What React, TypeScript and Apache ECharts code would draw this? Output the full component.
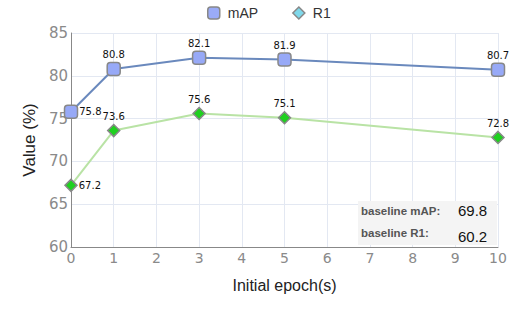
import React, { useEffect, useRef } from "react";
import * as echarts from "echarts";

const epochs = [0, 1, 3, 5, 10];
const mapValues = [75.8, 80.8, 82.1, 81.9, 80.7];
const r1Values = [67.2, 73.6, 75.6, 75.1, 72.8];
const baselineLabels = ["baseline mAP:", "baseline R1:"];
const baselineValues = ["69.8", "60.2"];

export default function App() {
  const ref = useRef<HTMLDivElement>(null);
  useEffect(() => {
    const chart = echarts.init(ref.current!, null, { renderer: "svg" });
    const labelFor = (i: number) =>
      i === 0
        ? { show: true, position: "right", distance: 1 }
        : { show: true, position: "top", distance: 2 };
    const mkData = (vals: number[]) =>
      vals.map((v, i) => ({ value: [epochs[i], v], label: labelFor(i) }));
    chart.setOption({
      animation: false,
      legend: {
        top: 1,
        left: 202,
        itemGap: 34,
        itemWidth: 12,
        itemHeight: 12,
        textStyle: { fontSize: 14, color: "#333", fontFamily: "Liberation Sans", padding: [0, 0, 0, 3] },
        data: [
          { name: "mAP", icon: "roundRect", itemStyle: { color: "#9aabf7", borderColor: "#888", borderWidth: 1.5 } },
          { name: "R1", icon: "diamond", itemStyle: { color: "#7fd8ea", borderColor: "#888", borderWidth: 1.5 } },
        ],
      },
      grid: { left: 71, right: 12, top: 33, bottom: 71 },
      xAxis: {
        type: "value",
        min: 0,
        max: 10,
        interval: 1,
        name: "Initial epoch(s)",
        nameLocation: "middle",
        nameGap: 30,
        nameTextStyle: { fontSize: 16, color: "#222", fontFamily: "Liberation Sans" },
        axisLine: { lineStyle: { color: "#888" } },
        axisTick: { show: false },
        axisLabel: { fontSize: 14, color: "#8a8a8a", margin: 4, fontFamily: "DejaVu Sans" },
        splitLine: { show: true, lineStyle: { color: "#e3e8f2" } },
      },
      yAxis: {
        type: "value",
        min: 60,
        max: 85,
        interval: 5,
        name: "Value (%)",
        nameLocation: "middle",
        nameGap: 32,
        nameTextStyle: { fontSize: 17, color: "#222", fontFamily: "Liberation Sans" },
        axisLine: { show: true, lineStyle: { color: "#888" } },
        axisTick: { show: false },
        axisLabel: { fontSize: 15, color: "#8a8a8a", margin: 3, fontFamily: "DejaVu Sans" },
        splitLine: { show: true, lineStyle: { color: "#e3e8f2" } },
      },
      series: [
        {
          name: "mAP",
          type: "line",
          symbol: "roundRect",
          symbolSize: 13,
          data: mkData(mapValues),
          lineStyle: { color: "#6a89bd", width: 2 },
          itemStyle: { color: "#97a9f7", borderColor: "#888", borderWidth: 1.5 },
          label: { fontSize: 10, color: "#111", fontFamily: "DejaVu Sans" },
          z: 3,
        },
        {
          name: "R1",
          type: "line",
          symbol: "diamond",
          symbolSize: 12,
          data: mkData(r1Values),
          lineStyle: { color: "#b9e3a5", width: 2 },
          itemStyle: { color: "#1fd01f", borderColor: "#888", borderWidth: 1.5 },
          label: { fontSize: 10, color: "#111", fontFamily: "DejaVu Sans" },
          z: 2,
        },
      ],
      graphic: [
        {
          type: "rect",
          left: 358,
          top: 201,
          shape: { width: 139, height: 44 },
          style: { fill: "#f4f4f4" },
          z: 10,
        },
        {
          type: "text",
          left: 361,
          top: 205,
          style: { text: baselineLabels[0], fontSize: 11.5, fontWeight: "bold", fill: "#555", fontFamily: "Liberation Sans" },
          z: 11,
        },
        {
          type: "text",
          left: 458,
          top: 203,
          style: { text: baselineValues[0], fontSize: 15, fill: "#111", fontFamily: "Liberation Sans" },
          z: 11,
        },
        {
          type: "text",
          left: 361,
          top: 227,
          style: { text: baselineLabels[1], fontSize: 11.5, fontWeight: "bold", fill: "#555", fontFamily: "Liberation Sans" },
          z: 11,
        },
        {
          type: "text",
          left: 458,
          top: 229,
          style: { text: baselineValues[1], fontSize: 15, fill: "#111", fontFamily: "Liberation Sans" },
          z: 11,
        },
      ],
    });
    return () => chart.dispose();
  }, []);
  return <div ref={ref} style={{ width: 510, height: 318, position: "absolute", left: 0, top: 0 }} />;
}
